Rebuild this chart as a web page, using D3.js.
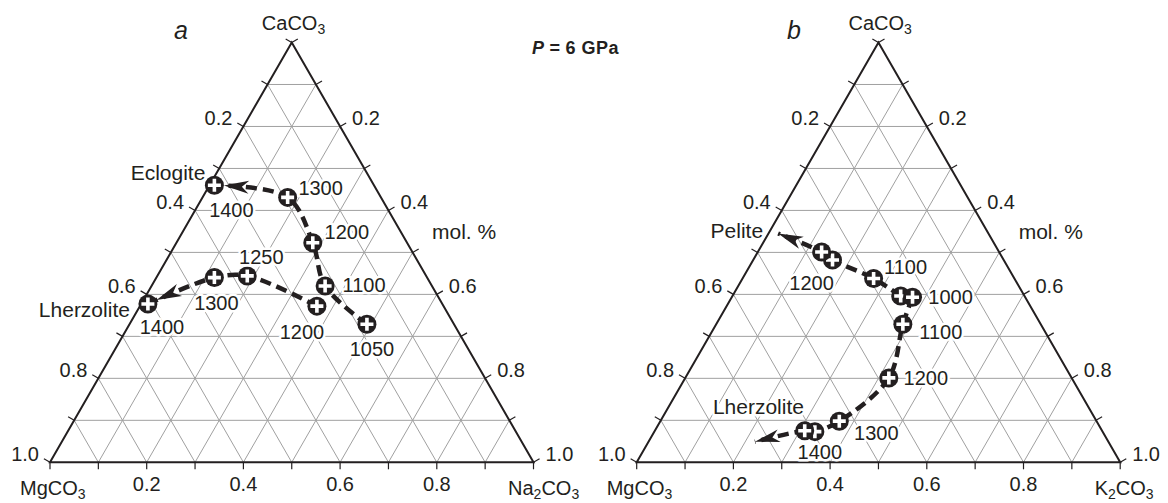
<!DOCTYPE html>
<html>
<head>
<meta charset="utf-8">
<script src="https://cdnjs.cloudflare.com/ajax/libs/d3/7.8.5/d3.min.js"></script>
<style>
body { margin: 0; background: #fff; }
svg { display: block; }
text { font-family: "Liberation Sans", Arial, sans-serif; fill: #231f20; }
</style>
</head>
<body>
<svg width="1168" height="503"></svg>
<script>
// compositions are [CaCO3, X2CO3] mole fractions, MgCO3 is the rest
// diagram a: CaCO3 - MgCO3 - Na2CO3
var eclogiteA = [[0.329, 0.491], [0.420, 0.359], [0.523, 0.282], [0.631, 0.176], [0.660, 0.010]];
var eclogiteTempsA = [1050, 1100, 1200, 1300, 1400];
var lherzA = [[0.372, 0.366], [0.444, 0.186], [0.440, 0.120], [0.377, 0.014]];
var lherzTempsA = [1200, 1250, 1300, 1400];

// diagram b: CaCO3 - MgCO3 - K2CO3
var peliteB = [[0.396, 0.348], [0.438, 0.271], [0.482, 0.164], [0.501, 0.132]];
var peliteTempsB = [null, 1100, 1200, null];
var peliteEndB = [0.545, 0.020];
var lherzB = [[0.393, 0.374], [0.329, 0.386], [0.201, 0.421], [0.098, 0.370], [0.073, 0.332], [0.075, 0.310]];
var lherzTempsB = [1000, 1100, 1200, 1300, 1400, null];
var lherzEndB = [0.049, 0.220];

var ticks = d3.range(0, 11).map(function (i) { return i / 10; });
var bottomLabels = [0.2, 0.4, 0.6, 0.8];
var sideLabels = [0.2, 0.4, 0.6, 0.8, 1.0];

var svg = d3.select("svg");

var W = 483.5, YB = 462.3, YT = 42.5;
var R = 9.5;
var TICK = 7;
var C30 = Math.cos(Math.PI / 6), S30 = 0.5;

var lineGen = d3.line().curve(d3.curveCatmullRom.alpha(0.5));

function fmt(v) { return v.toFixed(1); }

function halo(sel) {
    return sel.attr("stroke", "#fff").attr("stroke-width", 5)
        .attr("stroke-linejoin", "round").attr("paint-order", "stroke");
}

function chem(g, x, y, parts, anchor) {
    var t = g.append("text").attr("x", x).attr("y", y)
        .attr("font-size", 20).attr("text-anchor", anchor || "start");
    parts.forEach(function (p) {
        if (p.sub) {
            t.append("tspan").attr("font-size", 14).attr("dy", 4).text(p.s);
        } else {
            t.append("tspan").attr("dy", p.back ? -4 : 0).text(p.s);
        }
    });
    return t;
}

function makeDiagram(x0, rightName) {
    var xs = d3.scaleLinear().domain([0, 1]).range([x0, x0 + W]);
    var ys = d3.scaleLinear().domain([0, 1]).range([YB, YT]);
    function pt(ca, x) { return [xs(x + ca / 2), ys(ca)]; }

    var g = svg.append("g");

    // grid
    var lines = [];
    ticks.slice(1, 10).forEach(function (v) {
        lines.push([pt(v, 0), pt(v, 1 - v)]);
        lines.push([pt(0, v), pt(1 - v, v)]);
        lines.push([pt(0, 1 - v), pt(1 - v, 0)]);
    });
    g.append("g")
        .attr("class", "grid")
        .selectAll("line")
        .data(lines)
        .enter().append("line")
        .attr("x1", function (d) { return d[0][0]; })
        .attr("y1", function (d) { return d[0][1]; })
        .attr("x2", function (d) { return d[1][0]; })
        .attr("y2", function (d) { return d[1][1]; })
        .attr("stroke", "#a0a0a0")
        .attr("stroke-width", 1);

    // ticks on three sides
    var tk = [];
    ticks.forEach(function (v) {
        var b = pt(0, v), l = pt(1 - v, 0), r = pt(1 - v, v);
        tk.push([b, [b[0], b[1] + TICK]]);
        tk.push([l, [l[0] - TICK * C30, l[1] - TICK * S30]]);
        tk.push([r, [r[0] + TICK * C30, r[1] - TICK * S30]]);
    });
    g.append("g")
        .selectAll("line")
        .data(tk)
        .enter().append("line")
        .attr("x1", function (d) { return d[0][0]; })
        .attr("y1", function (d) { return d[0][1]; })
        .attr("x2", function (d) { return d[1][0]; })
        .attr("y2", function (d) { return d[1][1]; })
        .attr("stroke", "#231f20")
        .attr("stroke-width", 1.2);

    g.append("path")
        .attr("d", "M" + [pt(1, 0), pt(0, 0), pt(0, 1)].join("L") + "Z")
        .attr("fill", "none")
        .attr("stroke", "#231f20")
        .attr("stroke-width", 2);

    // tick labels
    g.selectAll("text.bl")
        .data(bottomLabels)
        .enter().append("text")
        .attr("class", "bl")
        .attr("x", function (d) { return pt(0, d)[0]; })
        .attr("y", YB + 29)
        .attr("text-anchor", "middle")
        .attr("font-size", 20)
        .text(fmt);
    g.selectAll("text.ll")
        .data(sideLabels)
        .enter().append("text")
        .attr("class", "ll")
        .attr("x", function (d) { return pt(1 - d, 0)[0] - 11; })
        .attr("y", function (d) { return pt(1 - d, 0)[1] - 1; })
        .attr("text-anchor", "end")
        .attr("font-size", 20)
        .text(fmt);
    g.selectAll("text.rl")
        .data(sideLabels)
        .enter().append("text")
        .attr("class", "rl")
        .attr("x", function (d) { return pt(1 - d, d)[0] + 12; })
        .attr("y", function (d) { return pt(1 - d, d)[1] - 1; })
        .attr("text-anchor", "start")
        .attr("font-size", 20)
        .text(fmt);

    // corner names
    chem(g, x0 + 243.5, 30, [{ s: "CaCO" }, { s: "3", sub: true }], "middle");
    chem(g, x0 - 30, 495, [{ s: "MgCO" }, { s: "3", sub: true }]);
    chem(g, x0 + 458, 495, [{ s: rightName }, { s: "2", sub: true }, { s: "CO", back: true }, { s: "3", sub: true }]);

    g.append("text")
        .attr("x", x0 + 382).attr("y", 239)
        .attr("font-size", 21)
        .text("mol. %");

    return { g: g, pt: pt };
}

function drawPath(d, pts, end, temps, offs, backoff) {
    var p = pts.map(function (c) { return d.pt(c[0], c[1]); });
    var all = end ? p.concat([d.pt(end[0], end[1])]) : p;
    var path = d.g.append("path")
        .attr("d", lineGen(all))
        .attr("fill", "none")
        .attr("stroke", "#231f20")
        .attr("stroke-width", 4.5)
        .attr("stroke-dasharray", "11,6");

    // arrow head at the end of the curve
    var node = path.node();
    var L = node.getTotalLength();
    var tip = node.getPointAtLength(L - backoff);
    var base = node.getPointAtLength(L - backoff - 22);
    var ang = Math.atan2(tip.y - base.y, tip.x - base.x) * 180 / Math.PI;
    d.g.append("path")
        .attr("d", "M0,0L-25,-6.5L-18,0L-25,6.5Z")
        .attr("transform", "translate(" + tip.x + "," + tip.y + ")rotate(" + ang + ")")
        .attr("fill", "#231f20");

    var m = d.g.append("g")
        .selectAll("g")
        .data(p)
        .enter().append("g")
        .attr("transform", function (c) { return "translate(" + c + ")"; });
    m.append("circle")
        .attr("r", R)
        .attr("fill", "#231f20");
    m.append("path")
        .attr("d", "M-6.5,0H6.5M0,-6.5V6.5")
        .attr("stroke", "#fff")
        .attr("stroke-width", 3.6);

    temps.forEach(function (t, i) {
        if (t === null) return;
        halo(d.g.append("text")
            .attr("x", p[i][0] + offs[i][0])
            .attr("y", p[i][1] + offs[i][1])
            .attr("dy", "0.35em")
            .attr("text-anchor", "middle")
            .attr("font-size", 20))
            .text(t);
    });
    return all[all.length - 1];
}

function nameLabel(d, at, dx, dy, anchor, s) {
    halo(d.g.append("text")
        .attr("x", at[0] + dx)
        .attr("y", at[1] + dy)
        .attr("text-anchor", anchor)
        .attr("font-size", 21))
        .text(s);
}

var A = makeDiagram(50, "Na");
var B = makeDiagram(636.7, "K");

var e1 = drawPath(A, eclogiteA, null, eclogiteTempsA,
    [[5, 25], [39, -1], [34, -11], [33, -9], [17, 25]], R);
var e2 = drawPath(A, lherzA, null, lherzTempsA,
    [[-15, 26], [14, -19], [2, 25], [14, 23]], R);
var e3 = drawPath(B, peliteB, peliteEndB, peliteTempsB,
    [null, [32, -11], [-21, 23], null], 0);
var e4 = drawPath(B, lherzB, lherzEndB, lherzTempsB,
    [[38, 0], [38, 8], [37, 0], [37, 12], [5, 20], null], 0);

nameLabel(A, e1, -9, -5, "end", "Eclogite");
nameLabel(A, e2, -18, 13, "end", "Lherzolite");
nameLabel(B, e3, -15, 4, "end", "Pelite");
nameLabel(B, e4, -42, -28, "start", "Lherzolite");

// panel letters and title
svg.append("text").attr("x", 174).attr("y", 39)
    .attr("font-family", "Liberation Serif").attr("font-style", "italic")
    .attr("font-size", 25).text("a");
svg.append("text").attr("x", 787).attr("y", 39)
    .attr("font-family", "Liberation Serif").attr("font-style", "italic")
    .attr("font-size", 25).text("b");

var title = svg.append("text").attr("x", 532).attr("y", 54)
    .attr("font-size", 18).attr("font-weight", "bold")
    .attr("letter-spacing", 0.5);
title.append("tspan").attr("font-style", "italic").text("P");
title.append("tspan").attr("dx", 5).text("=");
title.append("tspan").attr("dx", 5).text("6 GPa");
</script>
</body>
</html>
